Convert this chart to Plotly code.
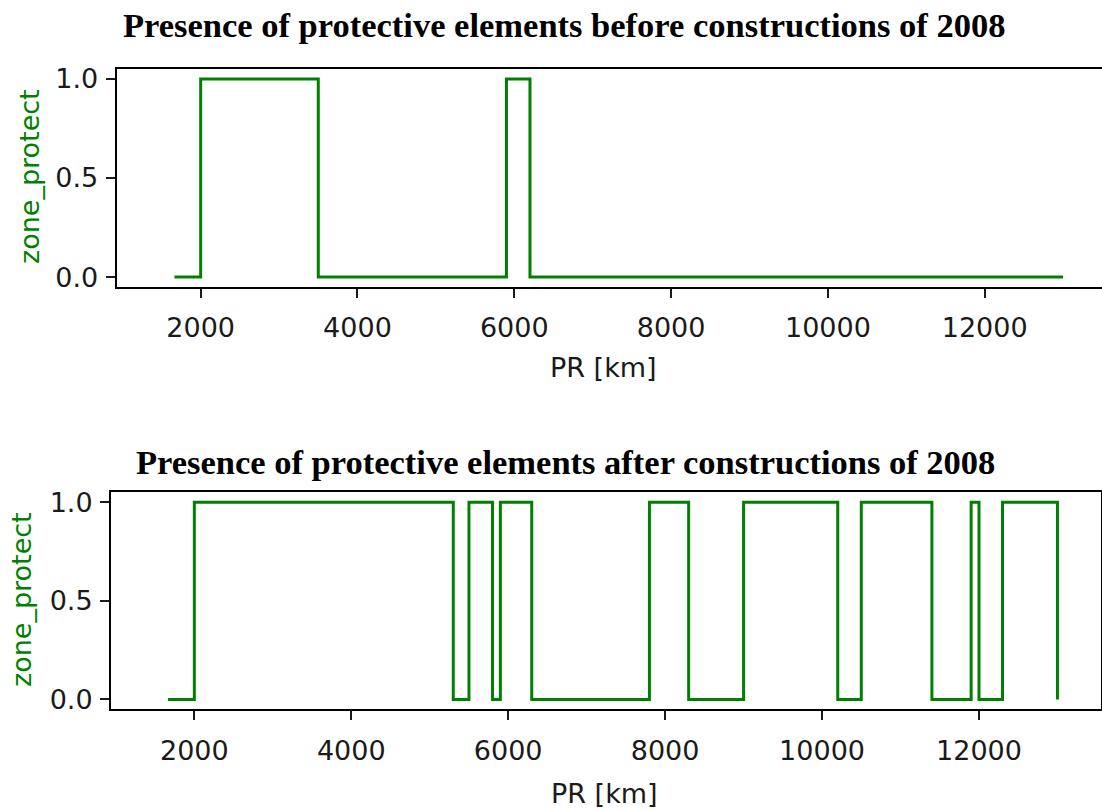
import plotly.graph_objects as go

# Protective-zone indicator along the road (PR in km), step series
pr_before = [1665, 2000, 3500, 5900, 6200, 13000]
zone_before = [0, 1, 0, 1, 0, 0]

pr_after = [1665, 2000, 5300, 5500, 5800, 5900, 6300, 7800, 8300,
            9000, 10200, 10500, 11400, 11900, 12000, 12300, 13000]
zone_after = [0, 1, 0, 1, 0, 1, 0, 1, 0, 1, 0, 1, 0, 1, 0, 1, 0]

x_ticks = [2000, 4000, 6000, 8000, 10000, 12000]
y_ticks = [0.0, 0.5, 1.0]

titles = ["Presence of protective elements before constructions of 2008",
          "Presence of protective elements after constructions of 2008"]

W, H = 1102, 810


def px(x):
    return x / W


def py(y):
    return 1 - y / H


GREEN = "#008000"
TICK_FONT = dict(family="DejaVu Sans", size=27, color="#1a1a1a")

fig = go.Figure()
fig.add_trace(go.Scatter(x=pr_before, y=zone_before, mode="lines",
                         line=dict(color=GREEN, width=3, shape="hv"),
                         xaxis="x", yaxis="y", showlegend=False))
fig.add_trace(go.Scatter(x=pr_after, y=zone_after, mode="lines",
                         line=dict(color=GREEN, width=3, shape="hv"),
                         xaxis="x2", yaxis="y2", showlegend=False))

common_x = dict(tickvals=x_ticks, ticktext=[str(v) for v in x_ticks],
                ticks="outside", ticklen=9, tickwidth=1.5, tickcolor="#1a1a1a",
                showline=True, linecolor="black", linewidth=2, mirror=True,
                showgrid=False, zeroline=False, tickfont=TICK_FONT,
                ticklabelstandoff=7)
common_y = dict(tickvals=y_ticks, ticktext=["%.1f" % v for v in y_ticks],
                ticks="outside", ticklen=9, tickwidth=1.5, tickcolor="#1a1a1a",
                showline=True, linecolor="black", linewidth=2,
                showgrid=False, zeroline=False, tickfont=TICK_FONT,
                ticklabelstandoff=2, range=[-0.05, 1.05])

fig.update_layout(
    width=W, height=H,
    margin=dict(l=0, r=0, t=0, b=0, autoexpand=False),
    paper_bgcolor="white", plot_bgcolor="white",
    xaxis=dict(common_x, domain=[px(116.7), 1.0], range=[929, 13496],
               anchor="y"),
    yaxis=dict(common_y, domain=[py(287), py(69)], anchor="x", mirror=False),
    xaxis2=dict(common_x, domain=[px(111), px(1101)], range=[938, 13555],
                anchor="y2"),
    yaxis2=dict(common_y, domain=[py(709.3), py(492.3)], anchor="x2",
                mirror=True),
)

annotations = [
    dict(text="<b>%s</b>" % titles[0], x=px(564), y=py(25)),
    dict(text="<b>%s</b>" % titles[1], x=px(565), y=py(462)),
]
for a in annotations:
    a.update(xref="paper", yref="paper", xanchor="center", yanchor="middle",
             showarrow=False,
             font=dict(family="Liberation Serif", size=34.5, color="black"))

for (xc, yc) in [(603, 367), (604, 793)]:
    annotations.append(dict(text="PR [km]", x=px(xc), y=py(yc), xref="paper",
                            yref="paper", xanchor="center", yanchor="middle",
                            showarrow=False, font=TICK_FONT))
for (xc, yc) in [(29, 177), (21, 600)]:
    annotations.append(dict(text="zone_protect", x=px(xc), y=py(yc),
                            xref="paper", yref="paper", xanchor="center",
                            yanchor="middle", showarrow=False, textangle=-90,
                            font=dict(family="DejaVu Sans", size=27,
                                      color=GREEN)))
fig.update_layout(annotations=annotations)

fig.write_html("out.html")
